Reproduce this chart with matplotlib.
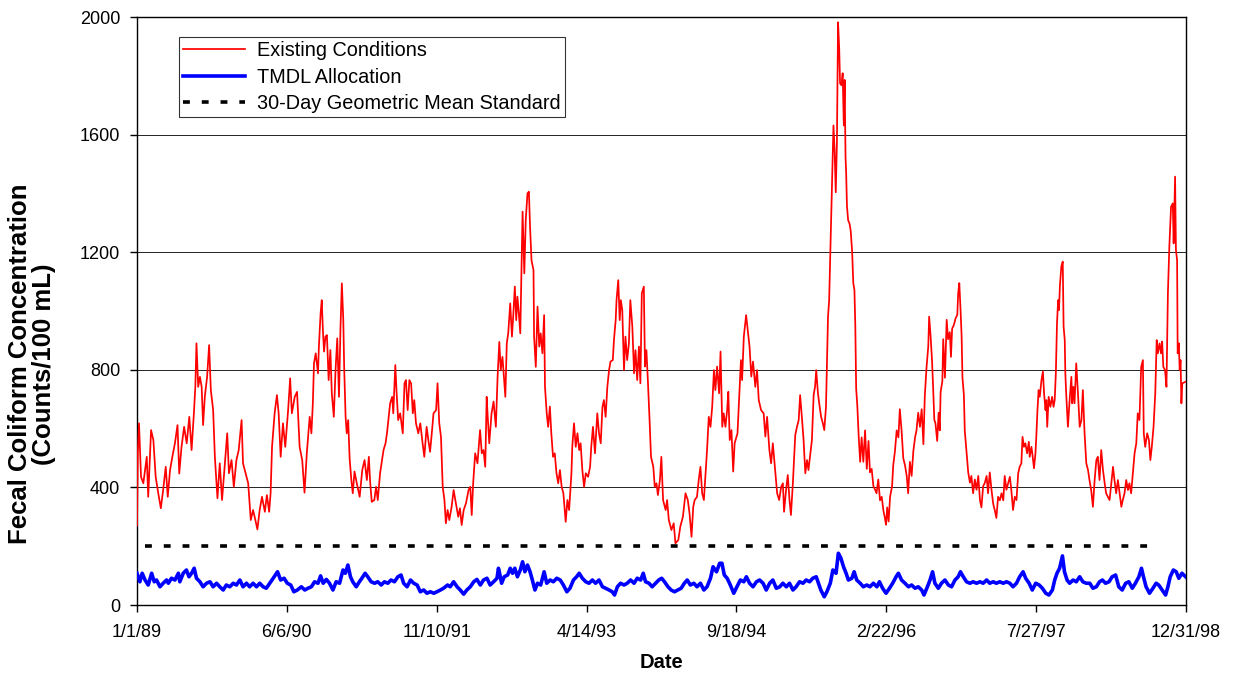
import numpy as np
import matplotlib
matplotlib.use("Agg")
import matplotlib.pyplot as plt

plt.rcParams['font.family'] = ['Liberation Sans', 'DejaVu Sans']

# ---------------- data (day offset from 1/1/89, counts/100 mL) ----------------
red_1989_90 = [(0,270),(3,520),(7,618),(14,436),(22,414),(34,504),(39,368),(49,595),(57,561),(65,436),
    (74,380),(83,329),(91,391),(100,470),(107,368),(115,459),(123,504),(132,550),(141,612),(147,447),
    (155,538),(164,606),(173,550),(182,640),(190,527),(198,652),(203,742),(207,890),(213,742),(219,776),
    (225,742),(230,612),(236,708),(244,776),(251,884),(257,731),(265,663),(271,504),(280,363),(288,482),
    (296,357),(306,482),(314,584),(320,448),(329,493),(337,402),(346,493),(354,527),(364,629),(369,482),
    (378,448),(387,414),(396,289),(404,323),(412,289),(419,257),(427,323),(435,368),(445,317),(452,374),
    (460,317),(465,380),(470,538),(479,652),(487,714),(493,652),(500,504),(508,618),(516,538),(526,663),
    (533,771),(539,652),(549,708),(557,725),(566,538),(575,493),(583,382),(591,516),(601,640)]
red_1990_92 = [(607,584),(612,686),(616,822),(622,856),(630,788),(633,878),(639,992),(643,1037),(647,935),
    (651,862),(656,913),(661,918),(667,765),(673,867),(678,720),(685,640),(691,799),(697,907),(703,708),
    (708,935),(713,1094),(718,969),(721,810),(726,640),(730,584),(735,629),(740,499),(746,425),(751,380),
    (757,454),(765,414),(775,368),(784,459),(792,493),(800,425),(807,504),(811,425),(817,351),(826,357),
    (832,402),(838,357),(846,448),(852,488),(858,527),(865,550),(870,584),(876,640),(881,686),(888,708),
    (892,652),(899,816),(904,714),(909,629),(916,652),(925,584),(931,754),(936,765),(942,663),(948,765),
    (954,754),(960,652),(965,697),(971,618),(979,584),(986,618),(994,550),(1000,504),(1008,606),(1014,561),
    (1020,521),(1027,595),(1032,652),(1041,663),(1046,754),(1052,618),(1058,572),(1064,402),(1070,357),
    (1075,278),(1081,323),(1087,289),(1095,334),(1102,391),(1110,346),(1118,300),(1124,329),(1130,272),
    (1137,323),(1145,346),(1154,391),(1160,402),(1165,306),(1170,414),(1177,516),(1185,482),(1194,595),
    (1200,516),(1206,527),(1212,470),(1217,708)]
red_1992_93 = [(1220,652),(1226,550),(1234,652),(1241,692),(1249,606),(1255,776),(1261,895),(1266,799),
    (1272,844),(1278,765),(1282,708),(1287,890),(1292,924),(1299,1026),(1305,913),(1310,992),(1315,1083),
    (1320,969),(1324,1049),(1329,992),(1334,924),(1338,1139),(1342,1338),(1348,1128),(1353,1309),(1359,1400),
    (1364,1406),(1368,1287),(1373,1173),(1380,1139),(1382,913),(1388,810),(1394,1015),(1400,879),(1405,924),
    (1411,856),(1417,986),(1420,742),(1426,652),(1431,606),(1437,675),(1442,584),(1448,504),(1454,516),
    (1460,448),(1466,414),(1472,459),(1478,402),(1484,380),(1492,283),(1498,357),(1504,323),(1512,448),
    (1515,538),(1521,618),(1527,538),(1533,584),(1539,527),(1544,550),(1550,459),(1556,402),(1562,448),
    (1570,436),(1577,470),(1581,538),(1587,606),(1594,516),(1602,652),(1608,584),(1614,550),(1620,674),
    (1625,697),(1631,640),(1637,742),(1643,799),(1648,828),(1656,833),(1660,901),(1666,969),(1669,1037),
    (1675,1105),(1680,969),(1684,1037),(1689,1003),(1695,799),(1700,913),(1706,833),(1712,890),(1717,1037),
    (1724,947),(1730,788),(1735,867),(1741,765),(1747,879),(1752,754),(1757,1060),(1764,1083),(1768,811),
    (1773,867),(1778,765),(1784,629),(1789,504),(1797,470),(1802,402),(1808,414),(1813,374),(1820,425),
    (1825,504),(1831,357)]
red_1994_95 = [(1840,323),(1845,357),(1851,289),(1860,255),(1868,278),(1874,210),(1884,221),(1891,267),
    (1900,300),(1909,380),(1917,357),(1923,312),(1930,232),(1936,334),(1941,357),(1949,368),(1955,425),
    (1961,470),(1967,380),(1973,357),(1978,436),(1984,527),(1990,640),(1996,606),(2002,675),(2008,799),
    (2013,731),(2019,811),(2026,720),(2031,862),(2037,606),(2042,652),(2048,606),(2054,663),(2058,725),
    (2063,561),(2069,595),(2075,454),(2080,550),(2090,584),(2096,708),(2102,833),(2106,765),(2112,913),
    (2120,986),(2127,924),(2132,878),(2138,777),(2144,828),(2152,742),(2158,799),(2164,697),(2172,663),
    (2181,652),(2187,573),(2193,640),(2201,527),(2207,482),(2213,550),(2221,459),(2228,380),(2235,357),
    (2242,402),(2248,414),(2252,317),(2259,391),(2265,442),(2271,357),(2276,306),(2283,419),(2291,578),
    (2297,606),(2303,629),(2308,714),(2314,640),(2320,561),(2326,448),(2332,493),(2337,459),(2343,510),
    (2349,561),(2355,714),(2360,743),(2364,799),(2370,720),(2376,674),(2381,640),(2387,618),(2392,595),
    (2398,674),(2401,811),(2405,980),(2409,1037)]
red_1995_97 = [(2424,1631),(2428,1547),(2432,1404),(2436,1571),(2438,1786),(2440,1982),(2444,1893),
    (2447,1774),(2452,1768),(2456,1809),(2460,1631),(2463,1786),(2466,1523),(2468,1476),(2471,1357),
    (2475,1309),(2480,1297),(2484,1273),(2489,1202),(2493,1095),(2497,1071),(2500,952),(2503,737),
    (2507,678),(2512,570),(2517,487),(2522,570),(2528,487),(2534,594),(2540,463),(2546,558),(2551,451),
    (2557,463),(2563,404),(2569,392),(2574,380),(2580,427),(2586,356),(2592,368),(2598,320),(2603,296),
    (2607,273),(2611,332),(2616,284),(2621,368),(2628,404),(2632,475),(2638,523),(2644,594),(2650,570),
    (2655,666),(2661,594),(2667,499),(2673,475),(2679,439),(2684,380),(2690,487),(2696,439),(2702,523),
    (2708,570),(2713,594),(2719,654),(2725,606),(2731,666),(2737,547),(2742,713),(2748,809),(2754,880),
    (2757,981),(2762,916),(2767,833),(2771,737),(2775,630),(2779,618),(2785,558),(2790,654),(2794,594),
    (2797,725),(2803,761),(2806,904),(2812,773),(2818,970),(2823,904),(2829,928),(2833,844),(2837,940),
    (2843,952),(2849,975),(2855,987),(2858,1059),(2862,1095),(2866,1011),(2870,916),(2873,773),(2878,713),
    (2881,594),(2887,523),(2893,451),(2899,416),(2904,439),(2910,380),(2916,427),(2922,392),(2928,439),
    (2934,356),(2939,332),(2945,404),(2951,416),(2957,439),(2962,380),(2968,451),(2974,392),(2980,344),
    (2986,320),(2991,296),(2997,368),(3003,356),(3009,380),(3015,356),(3020,439),(3026,392)]
red_1997_98 = [(3038,436),(3043,391),(3049,323),(3055,368),(3061,357),(3067,448),(3072,470),(3078,482),
    (3082,572),(3087,538),(3092,550),(3098,516),(3104,555),(3107,504),(3113,538),(3116,516),(3122,465),
    (3127,516),(3130,572),(3134,663),(3138,731),(3142,708),(3148,765),(3153,794),(3157,720),(3162,663),
    (3165,697),(3168,606),(3173,708),(3179,674),(3185,708),(3190,674),(3194,697),(3198,788),(3202,958),
    (3206,1037),(3209,1003),(3212,1083),(3217,1151),(3222,1168),(3225,947),(3229,901),(3231,788),(3234,720),
    (3240,606),(3246,697),(3252,776),(3255,686),(3259,742),(3263,686),(3269,822),(3275,720),(3281,606),
    (3287,629),(3292,731),(3298,584),(3304,482),(3310,459),(3315,425),(3321,391),(3327,334),(3333,425),
    (3339,493),(3344,504),(3350,425),(3356,527),(3362,459),(3368,414),(3373,380),(3379,368),(3385,357),
    (3391,414),(3397,470),(3402,425),(3408,380),(3414,425),(3420,380),(3426,334),(3431,357),(3437,380),
    (3443,425),(3449,391),(3454,414),(3460,380),(3466,448),(3472,516),(3478,550),(3483,652),(3489,629),
    (3495,810),(3501,833),(3504,584),(3509,538),(3516,584),(3522,561),(3527,493),(3532,538),(3538,606),
    (3544,720),(3549,901),(3553,856),(3559,890),(3564,856),(3568,896),(3572,810),(3578,799),(3583,742),
    (3588,1060),(3593,1219),(3599,1355),(3605,1366),(3608,1230),(3613,1457),(3616,1207),(3620,1173),
    (3622,856),(3626,890),(3629,799),(3632,833),(3635,686),(3638,754),(3651,760)]

blue_1989_92 = [(0,108),(10,79),(18,108),(28,85),(39,68),(51,108),(60,79),(68,85),(80,62),(91,74),(103,85),
    (109,74),(120,91),(132,85),(144,108),(149,79),(161,108),(172,119),(181,96),(190,108),(199,125),(207,91),
    (219,79),(230,62),(242,74),(254,79),(265,62),(277,74),(288,62),(300,51),(311,68),(323,62),(335,74),
    (346,68),(358,85),(369,62),(381,74),(392,62),(404,74),(416,62),(427,74),(439,62),(450,57),(462,74),
    (474,91),(489,113),(500,85),(512,91),(523,74),(535,68),(546,45),(558,51),(572,62),(584,51),(595,57),
    (607,62),(618,79),(630,74),(639,99),(648,74),(659,87),(670,74),(682,51),(693,79),(705,74),(717,119),
    (725,108),(734,136),(743,96),(751,79),(763,62),(774,79),(786,96),(794,108),(803,96),(815,79),(827,74),
    (838,79),(850,68),(861,79),(873,74),(884,85),(896,79),(908,96),(919,102),(928,74),(940,62),(952,85),
    (963,74),(975,68),(986,45),(998,51),(1009,40),(1021,45),(1033,40),(1044,45),(1056,51),(1067,57),
    (1081,68),(1090,62),(1102,79),(1114,62),(1125,51),(1137,37),(1148,51),(1160,62),(1172,79),(1183,87),
    (1195,68),(1206,85),(1218,91),(1229,68),(1241,79),(1253,91),(1258,125)]
blue_1992_95 = [(1261,113),(1269,74),(1278,96),(1290,102),(1299,125),(1307,108),(1315,125),(1324,96),
    (1334,119),(1342,147),(1350,113),(1359,136),(1368,113),(1376,85),(1385,51),(1394,74),(1405,68),
    (1417,113),(1426,74),(1438,85),(1449,79),(1461,91),(1473,85),(1484,68),(1496,45),(1507,57),(1519,85),
    (1530,96),(1539,108),(1550,91),(1562,79),(1573,74),(1585,85),(1596,74),(1608,85),(1620,62),(1631,57),
    (1643,51),(1654,45),(1662,34),(1672,62),(1683,74),(1695,68),(1706,74),(1718,85),(1730,74),(1741,91),
    (1753,85),(1762,108),(1770,79),(1782,74),(1793,62),(1805,74),(1816,85),(1826,91),(1836,79),(1848,62),
    (1859,51),(1871,45),(1882,51),(1894,57),(1905,74),(1915,85),(1926,68),(1938,74),(1949,62),(1961,74),
    (1973,51),(1984,62),(1996,91),(2005,130),(2017,113),(2028,142),(2036,142),(2044,102),(2054,91),
    (2065,68),(2077,40),(2088,62),(2100,85),(2112,79),(2121,96),(2132,74),(2144,62),(2156,79),(2167,85),
    (2179,74),(2190,51),(2202,74),(2213,85),(2225,57),(2237,62),(2248,74),(2260,62),(2271,74),(2283,51),
    (2294,62),(2306,79),(2318,74),(2329,85),(2341,79),(2352,91),(2364,96),(2372,74),(2380,51),(2392,28),
    (2401,45),(2413,74),(2422,119),(2433,108),(2441,176),(2450,159),(2459,130),(2468,108),(2476,85),
    (2488,91),(2496,113),(2505,85)]
blue_1995_98 = [(2517,74),(2528,62),(2540,68),(2551,62),(2563,74),(2575,62),(2584,79),(2595,57),(2607,40),
    (2619,57),(2630,74),(2642,96),(2650,108),(2661,85),(2673,74),(2685,62),(2696,68),(2708,57),(2719,62),
    (2731,51),(2739,34),(2751,62),(2760,85),(2769,113),(2777,74),(2789,57),(2800,74),(2812,85),(2824,68),
    (2835,62),(2847,85),(2858,96),(2866,113),(2876,96),(2887,79),(2899,74),(2910,79),(2922,74),(2934,79),
    (2945,74),(2957,85),(2968,74),(2980,79),(2991,74),(3003,79),(3015,74),(3026,79),(3038,74),(3049,62),
    (3061,74),(3072,96),(3084,113),(3093,91),(3105,74),(3116,51),(3128,74),(3140,68),(3151,57),(3163,40),
    (3174,34),(3186,51),(3194,85),(3202,108),(3211,125),(3221,167),(3228,113),(3237,85),(3246,74),
    (3258,85),(3269,79),(3281,96),(3292,79),(3304,74),(3316,74),(3327,57),(3339,62),(3350,79),(3360,85),
    (3371,74),(3383,79),(3394,96),(3406,102),(3417,62),(3429,51),(3441,74),(3452,79),(3464,57),(3475,74),
    (3487,96),(3496,125),(3503,96),(3512,62),(3524,40),(3536,57),(3547,74),(3556,68),(3568,51),(3580,34),
    (3588,62),(3596,96),(3607,119),(3617,113),(3626,91),(3637,108),(3643,102),(3651,95)]

standard_value = 200
standard_days = [28, 3540]

x_tick_labels = ["1/1/89", "6/6/90", "11/10/91", "4/14/93", "9/18/94", "2/22/96", "7/27/97", "12/31/98"]
last_day = 3651
y_ticks = [0, 400, 800, 1200, 1600, 2000]
series_names = ["Existing Conditions", "TMDL Allocation", "30-Day Geometric Mean Standard"]

red = np.array(red_1989_90 + red_1990_92 + red_1992_93 + red_1994_95 + red_1995_97 + red_1997_98, dtype=float)
blue = np.array(blue_1989_92 + blue_1992_95 + blue_1995_98, dtype=float)

# ---------------- figure ----------------
fig = plt.figure(figsize=(12.33, 6.77), dpi=100)
ax = fig.add_axes([137/1233, 1-605/677, (1186-137)/1233, (605-17)/677])

ax.plot(red[:, 0], red[:, 1], color='#FF0000', lw=1.25, label=series_names[0], zorder=3)
ax.plot(blue[:, 0], blue[:, 1], color='#0000FF', lw=2.6, label=series_names[1], zorder=3,
        solid_joinstyle='round')
ax.plot(standard_days, [standard_value]*2, color='black', lw=2.6, dashes=(1.9, 3.3),
        dash_capstyle='butt', label=series_names[2], zorder=3)

ax.set_xlim(0, last_day)
ax.set_ylim(0, 2000)
ax.set_xticks(np.linspace(0, last_day, len(x_tick_labels)))
ax.set_xticklabels(x_tick_labels)
ax.set_yticks(y_ticks)
ax.set_yticklabels([str(v) for v in y_ticks])
ax.yaxis.grid(True, color='black', lw=0.6, zorder=1)
ax.set_axisbelow(True)
for s in ax.spines.values():
    s.set_color('black'); s.set_linewidth(1.0)
ax.tick_params(axis='x', direction='out', length=5, width=1, labelsize=13, pad=9)
ax.tick_params(axis='y', direction='out', length=5, width=1, labelsize=13, pad=7)

fig.text(661/1233, 1-663/677, "Date", fontsize=14.5, fontweight='bold', ha='center', va='center')
fig.text(32/1233, 1-364/677, "Fecal Coliform Concentration\n(Counts/100 mL)", fontsize=18.5,
         fontweight='bold', rotation=90, ha='center', va='center', linespacing=1.0, multialignment='center')

leg = ax.legend(loc='upper left', bbox_to_anchor=((179-137)/1049, (605-37)/588), borderaxespad=0,
                fontsize=14.3, frameon=True, fancybox=False, shadow=False, handlelength=3.1,
                handletextpad=0.6, labelspacing=0.36, borderpad=0.22)
leg.get_frame().set_edgecolor('black')
leg.get_frame().set_linewidth(0.8)

fig.savefig("out.png", dpi=100)
